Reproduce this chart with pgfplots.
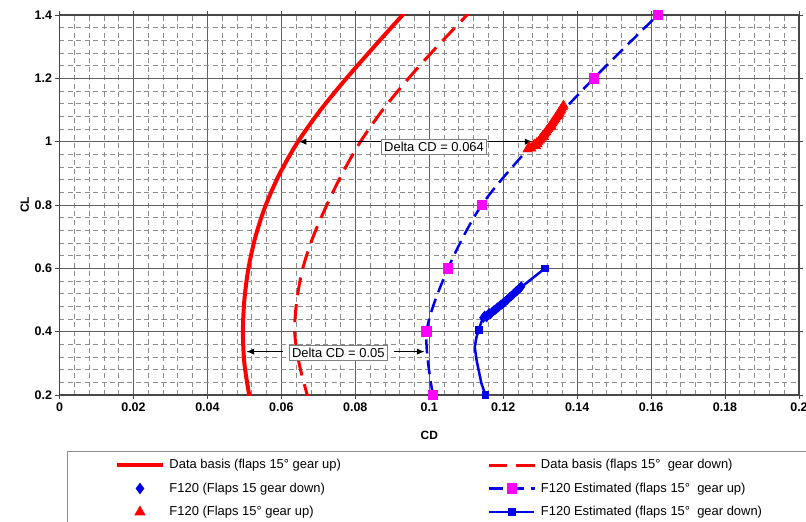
\documentclass[border=0pt]{standalone}
\usepackage{fontspec}
\setmainfont{Liberation Sans}
\usepackage{pgfplots}
\pgfplotsset{compat=1.18}
\usetikzlibrary{arrows.meta}
\definecolor{myblue}{RGB}{0,0,235}
\definecolor{mymag}{RGB}{255,0,255}
\begin{document}
\begin{tikzpicture}
\useasboundingbox (-59.5bp,-127bp) rectangle (746.5bp,395bp);
\begin{axis}[
  at={(0,0)}, anchor=south west,
  scale only axis, width=739.5bp, height=380bp,
  xmin=0, xmax=0.2, ymin=0.2, ymax=1.4,
  xtick={0,0.02,0.04,0.06,0.08,0.1,0.12,0.14,0.16,0.18,0.2},
  xticklabels={0,0.02,0.04,0.06,0.08,0.1,0.12,0.14,0.16,0.18,0.2},
  ytick={0.2,0.4,0.6,0.8,1,1.2,1.4},
  yticklabels={0.2,0.4,0.6,0.8,1,1.2,1.4},
  minor x tick num=4, minor y tick num=4,
  grid=both,
  major grid style={black!62, line width=0.9bp},
  minor grid style={black!45, dash pattern=on 5bp off 3.5bp, line width=0.7bp},
  axis line style={black!72, line width=1.2bp},
  tick style={black!72, line width=0.8bp},
  major tick length=4bp, minor tick length=0bp,
  tick align=outside,
  ticklabel style={font=\fontsize{12.5}{14}\selectfont\bfseries},
  xlabel={CD}, ylabel={CL},
  label style={font=\fontsize{12}{14}\selectfont\bfseries},
  xlabel style={at={(axis description cs:0.5,-0.105)}, anchor=center},
  ylabel style={at={(axis description cs:-0.047,0.5)}, anchor=center},
  legend columns=2,
  legend cell align=left,
  legend image code/.code={\draw[#1, mark indices={2}] plot coordinates {(0bp,0bp) (22.5bp,0bp) (45bp,0bp)};},
  legend style={
    at={(axis description cs:0.0101,-0.1474)}, anchor=north west,
    draw=black!45, line width=1bp,
    font=\fontsize{13}{15}\selectfont,
    inner xsep=48bp, inner ysep=6bp,
    row sep=8.5bp,
    nodes={inner sep=1bp, text height=10bp, text depth=3bp},
    /tikz/every odd column/.style={column sep=4bp},
    /tikz/every even column/.style={column sep=146bp},
  },
]
% Data basis gear up
\addplot[red, line width=4bp, smooth] coordinates {
(0.0517,0.18)(0.0513,0.2)(0.0500,0.3)(0.0496,0.4)(0.0500,0.5)(0.0511,0.6)(0.0530,0.7)(0.0558,0.8)(0.0596,0.9)(0.0645,1.0)(0.0706,1.1)(0.0776,1.2)(0.0851,1.3)(0.0928,1.4)(0.0944,1.42)};
\addlegendentry{Data basis (flaps 15° gear up)}
% Data basis gear down
\addplot[red, line width=3bp, dash pattern=on 18bp off 9bp, smooth] coordinates {
(0.0676,0.18)(0.0670,0.2)(0.0648,0.3)(0.0636,0.4)(0.0642,0.5)(0.0658,0.6)(0.0686,0.7)(0.0723,0.8)(0.0765,0.9)(0.0814,1.0)(0.0874,1.1)(0.0944,1.2)(0.1021,1.3)(0.1102,1.4)(0.1118,1.42)};
\addlegendentry{Data basis (flaps 15°\ \ gear down)}
% F120 flaps 15 gear down (measured)
\addplot[only marks, mark=diamond*, mark size=5bp, myblue, mark options={draw=myblue, fill=myblue}] coordinates {
(0.1146,0.444)(0.1150,0.450)(0.1155,0.446)(0.1158,0.453)(0.1162,0.458)(0.1166,0.456)(0.1170,0.462)(0.1174,0.466)(0.1178,0.469)(0.1182,0.473)(0.1186,0.477)(0.1190,0.481)(0.1194,0.485)(0.1198,0.488)(0.1202,0.492)(0.1206,0.496)(0.1210,0.500)(0.1214,0.505)(0.1218,0.509)(0.1222,0.513)(0.1226,0.517)(0.1230,0.522)(0.1234,0.526)(0.1238,0.530)(0.1242,0.534)(0.1246,0.539)(0.1249,0.542)};
\addlegendentry{F120 (Flaps 15 gear down)}
% F120 Estimated gear up
\addplot[myblue, line width=2.5bp, dash pattern=on 14bp off 7bp, smooth, mark=square*, mark size=4bp, mark indices={1,2,3,4,6,7}, mark options={solid, draw=mymag, fill=mymag}] coordinates {
(0.1010,0.2)(0.0993,0.4)(0.1051,0.6)(0.1142,0.8)(0.1285,1.0)(0.1445,1.2)(0.1618,1.4)};
\addlegendentry{F120 Estimated (flaps 15°\ \ gear up)}
% F120 flaps 15 gear up (measured)
\addplot[only marks, mark=triangle*, mark size=5.5bp, red, mark options={draw=red, fill=red}] coordinates {
(0.1266,0.976)(0.1270,0.983)(0.1276,0.979)(0.1281,0.987)(0.1284,0.991)(0.1289,0.986)(0.1291,0.996)(0.1295,0.999)(0.1299,1.004)(0.1301,1.009)(0.1305,1.013)(0.1307,1.018)(0.1311,1.022)(0.1314,1.027)(0.1316,1.031)(0.1319,1.036)(0.1322,1.040)(0.1325,1.045)(0.1327,1.049)(0.1330,1.054)(0.1333,1.058)(0.1335,1.063)(0.1338,1.067)(0.1341,1.072)(0.1343,1.077)(0.1346,1.081)(0.1348,1.086)(0.1351,1.090)(0.1353,1.095)(0.1356,1.099)(0.1358,1.104)(0.1361,1.109)(0.1363,1.114)(0.1293,0.992)(0.1310,1.015)(0.1330,1.047)(0.1350,1.082)};
\addlegendentry{F120 (Flaps 15° gear up)}
% F120 Estimated gear down
\addplot[myblue, line width=2.5bp, mark=square*, mark size=2.5bp, mark indices={1,6,13}, mark options={solid, fill=myblue}] coordinates {
(0.1152,0.2)(0.1141,0.237)(0.1128,0.31)(0.1123,0.352)(0.1128,0.384)(0.1134,0.405)(0.1141,0.431)(0.1150,0.45)(0.1175,0.468)(0.1200,0.49)(0.1225,0.515)(0.1248,0.54)(0.1313,0.6)};
\addlegendentry{F120 Estimated (flaps 15°\ \ gear down)}
% annotations
\draw[black, line width=1.5bp, -{Latex[length=8bp,width=6.5bp]}] (axis cs:0.0869,1.0) -- (axis cs:0.0646,1.0);
\draw[black, line width=1.5bp, -{Latex[length=8bp,width=6.5bp]}] (axis cs:0.1158,1.0) -- (axis cs:0.1280,1.0);
\node[draw=black!50, line width=1bp, fill=white, inner sep=3bp, font=\fontsize{13}{15}\selectfont] at (axis cs:0.1013,0.983) {Delta CD = 0.064};
\draw[black, line width=1.5bp, -{Latex[length=8bp,width=6.5bp]}] (axis cs:0.0604,0.337) -- (axis cs:0.0505,0.337);
\draw[black, line width=1.5bp, -{Latex[length=8bp,width=6.5bp]}] (axis cs:0.0904,0.337) -- (axis cs:0.0988,0.337);
\node[draw=black!50, line width=1bp, fill=white, inner sep=3bp, font=\fontsize{13}{15}\selectfont] at (axis cs:0.0754,0.333) {Delta CD = 0.05};
\end{axis}
\end{tikzpicture}
\end{document}
